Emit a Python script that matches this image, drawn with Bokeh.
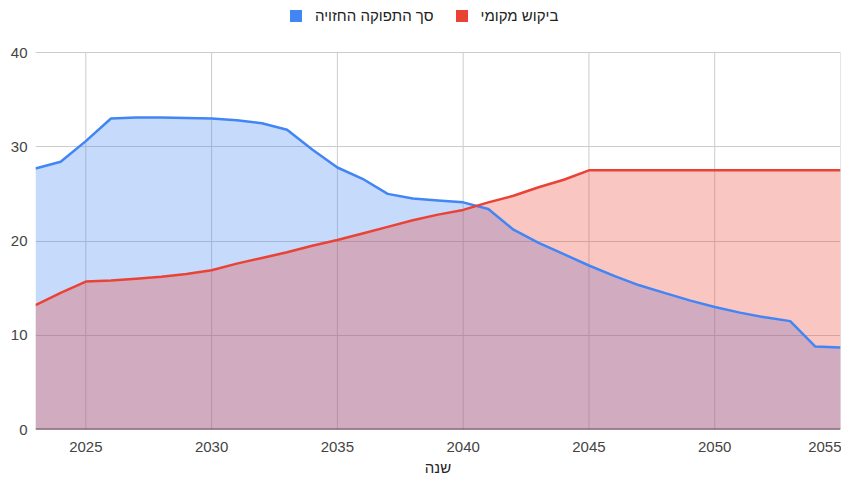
from bokeh.plotting import figure
from bokeh.models import Legend, LegendItem, Span, FixedTicker, Range1d
from bokeh.embed import file_html
from bokeh.resources import INLINE

years = list(range(2023, 2056))
supply = [27.7, 28.4, 30.6, 33.0, 33.1, 33.1, 33.05, 33.0, 32.8, 32.5, 31.8,
          29.7, 27.8, 26.6, 25.0, 24.5, 24.3, 24.1, 23.4, 21.2, 19.8, 18.6,
          17.4, 16.3, 15.3, 14.5, 13.7, 13.0, 12.4, 11.9, 11.5, 8.8, 8.7]
demand = [13.2, 14.5, 15.7, 15.8, 16.0, 16.2, 16.5, 16.9, 17.6, 18.2, 18.8,
          19.5, 20.1, 20.8, 21.5, 22.2, 22.8, 23.3, 24.1, 24.8, 25.7, 26.5,
          27.5, 27.5, 27.5, 27.5, 27.5, 27.5, 27.5, 27.5, 27.5, 27.5, 27.5]
supply_name = "סך התפוקה החזויה"
demand_name = "ביקוש מקומי"
x_title = "שנה"
x_ticks = [2025, 2030, 2035, 2040, 2045, 2050, 2055]
y_ticks = [0, 10, 20, 30, 40]
y_max = 40

BLUE = "#4285F4"
RED = "#EA4335"
FONT = "Liberation Sans"

# frame spans 4..429 px; the 0..40 value band spans 52..429 px,
# the space above 40 holds the legend
top_px, val_px = 425, 377
p = figure(width=841, height=479, output_backend="svg", toolbar_location=None,
           x_range=Range1d(2023, 2055),
           y_range=Range1d(0, y_max * top_px / val_px),
           min_border_left=35, min_border_right=1, min_border_top=4,
           min_border_bottom=50)
p.outline_line_color = None
p.background_fill_color = "white"
p.border_fill_color = "white"

for ax in (p.xaxis[0], p.yaxis[0]):
    ax.axis_line_color = None
    ax.major_tick_line_color = None
    ax.minor_tick_line_color = None
    ax.major_label_text_font = FONT
    ax.major_label_text_font_size = "15px"
    ax.major_label_text_color = "#444444"

p.xaxis.major_label_standoff = 6
p.yaxis.major_label_standoff = 2
p.xaxis.ticker = FixedTicker(ticks=x_ticks)
p.yaxis.ticker = FixedTicker(ticks=y_ticks)
p.xaxis.axis_label = x_title
p.xaxis.axis_label_text_font = FONT
p.xaxis.axis_label_text_font_style = "normal"
p.xaxis.axis_label_text_font_size = "15px"
p.xaxis.axis_label_text_color = "#222222"
p.xaxis.axis_label_standoff = 4

p.xgrid.grid_line_color = None
p.ygrid.ticker = FixedTicker(ticks=y_ticks)
p.ygrid.grid_line_color = "#cccccc"
p.segment(x0=x_ticks, y0=[0] * len(x_ticks), x1=x_ticks,
          y1=[y_max] * len(x_ticks), line_color="#cccccc", line_width=1,
          level="underlay")

base = Span(location=0, dimension="width", line_color="#333333", line_width=2,
            level="underlay")
p.add_layout(base)

a1 = p.varea(x=years, y1=0, y2=supply, fill_color=BLUE, fill_alpha=0.3)
a2 = p.varea(x=years, y1=0, y2=demand, fill_color=RED, fill_alpha=0.3)
l1 = p.line(years, supply, line_color=BLUE, line_width=2.5)
l2 = p.line(years, demand, line_color=RED, line_width=2.5)

# solid swatches for the legend: hidden copies of the areas at full opacity
k1 = p.varea(x=years, y1=0, y2=supply, fill_color=BLUE, fill_alpha=1.0,
             visible=False)
k2 = p.varea(x=years, y1=0, y2=demand, fill_color=RED, fill_alpha=1.0,
             visible=False)

legend = Legend(items=[LegendItem(label=supply_name, renderers=[k1]),
                       LegendItem(label=demand_name, renderers=[k2])],
                location=(253, 405), orientation="horizontal",
                border_line_color=None, background_fill_alpha=0,
                inactive_fill_alpha=0,
                padding=0, margin=0, spacing=20, label_standoff=12,
                glyph_width=15, glyph_height=15, label_height=15,
                label_text_font=FONT, label_text_font_size="15px",
                label_text_color="#222222")
p.add_layout(legend, "center")

open("out.html", "w").write(file_html(p, INLINE))
